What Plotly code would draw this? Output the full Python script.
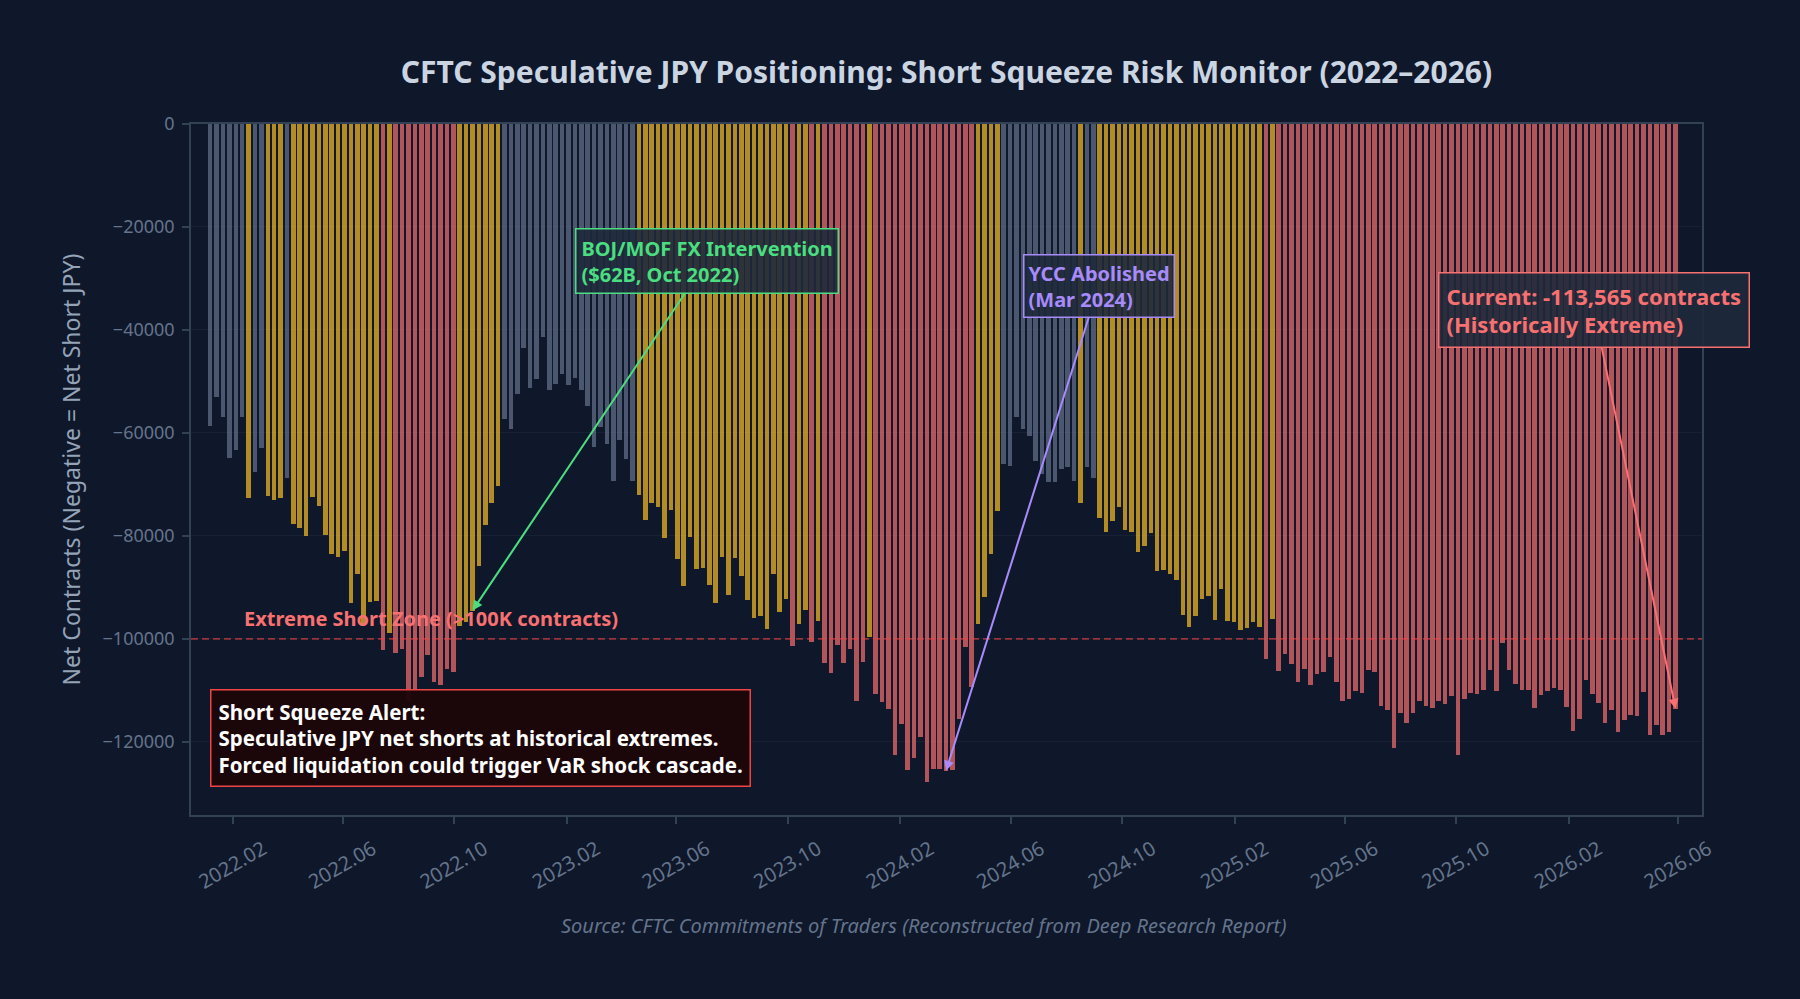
import pandas as pd
import plotly.graph_objects as go

# ---------------- data ----------------
start_date = "2022-01-07"   # first weekly CFTC report shown
n_weeks = 230
net_contracts = [
    -58600, -53000, -57000, -64800, -63300, -57000, -72700, -67500, -63000, -72200,
    -73100, -72600, -68700, -77600, -78500, -80000, -72500, -74100, -79900, -83500,
    -84000, -83000, -93100, -87300, -97300, -92800, -92700, -102200, -98800, -102800,
    -102000, -112000, -109900, -107400, -103100, -108300, -109000, -105800, -106500, -97500,
    -96700, -94500, -85800, -77800, -73600, -70300, -57300, -59300, -52500, -43500,
    -51200, -49500, -41300, -51700, -50400, -48500, -50600, -49300, -51600, -54700,
    -62800, -58900, -62100, -69400, -61400, -65100, -69400, -72000, -76900, -73600,
    -74300, -80400, -75000, -84500, -89800, -80200, -86400, -86200, -89600, -93100,
    -84000, -91500, -84200, -87800, -92400, -96000, -95500, -98100, -87300, -94800,
    -92300, -101400, -97200, -94400, -100600, -96500, -104700, -106600, -101200, -104700,
    -102000, -112000, -104500, -99600, -110700, -112300, -113600, -122500, -116600, -125500,
    -123200, -119100, -127800, -125200, -125200, -125600, -125400, -115600, -101600, -109400,
    -97200, -91900, -83500, -75200, -66100, -66500, -57000, -59300, -60600, -65400,
    -67900, -69500, -69500, -67000, -66700, -69400, -73600, -66700, -68800, -76600,
    -79300, -77100, -74400, -78900, -79300, -83200, -82000, -79500, -86800, -86600,
    -87400, -88600, -95400, -97600, -95500, -92300, -91700, -96400, -90400, -96500,
    -96700, -98300, -97900, -96700, -97700, -103900, -96200, -106200, -102900, -104900,
    -108400, -105900, -109000, -106900, -106400, -103600, -108400, -112000, -111700, -110200,
    -110500, -106100, -106400, -113000, -113800, -121200, -114400, -116300, -114400, -112000,
    -113000, -113500, -112000, -112600, -111100, -122500, -111700, -110500, -110700, -110000,
    -106100, -110200, -100700, -106100, -108700, -110000, -110000, -113500, -110900, -110200,
    -109500, -109900, -113200, -117800, -115600, -108000, -110700, -112500, -116300, -113800,
    -118100, -115800, -114700, -115000, -110300, -118600, -116700, -118600, -118100, -113565,
]
extreme_threshold = -100000
elevated_threshold = -70000
boj_week_index = 41      # Oct 2022 intervention week
ycc_week_index = 115     # Mar 2024 YCC abolished

dates = pd.date_range(start_date, periods=n_weeks, freq="7D")

RED = "rgba(248,113,113,0.7)"
GOLD = "rgba(251,191,36,0.7)"
GRAY = "rgba(100,116,139,0.7)"
colors = [RED if v <= extreme_threshold else (GOLD if v <= elevated_threshold else GRAY)
          for v in net_contracts]

BG = "#0f172a"
FONT = "Noto Sans"

fig = go.Figure()
fig.add_trace(go.Bar(
    x=dates, y=net_contracts, marker=dict(color=colors, line=dict(width=0)),
    width=5 * 86400000, showlegend=False, hoverinfo="x+y",
))

fig.add_hline(y=extreme_threshold,
              line=dict(color="rgba(239,68,68,0.6)", width=1.6, dash="7px,4px"))

annotations = []
annotations.append(dict(
    x=0.034, xref="paper", y=extreme_threshold, yref="y", xanchor="left", yanchor="bottom",
    yshift=5, showarrow=False,
    text="<b>Extreme Short Zone (>100K contracts)</b>",
    font=dict(family=FONT, size=20, color="#f87171"),
))
annotations.append(dict(
    x=dates[boj_week_index], y=net_contracts[boj_week_index], xref="x", yref="y",
    ax="2023-07-04", ay=-26600, axref="x", ayref="y",
    text="<b>BOJ/MOF FX Intervention<br>($62B, Oct 2022)</b>", align="left",
    font=dict(family=FONT, size=20, color="#4ade80"),
    bgcolor="rgba(30,41,59,0.9)", bordercolor="#4ade80", borderwidth=1.5, borderpad=5,
    showarrow=True, arrowhead=2, arrowsize=1, arrowwidth=2, arrowcolor="#4ade80",
))
annotations.append(dict(
    x=dates[ycc_week_index], y=net_contracts[ycc_week_index], xref="x", yref="y",
    ax="2024-09-05", ay=-31400, axref="x", ayref="y",
    text="<b>YCC Abolished<br>(Mar 2024)</b>", align="left",
    font=dict(family=FONT, size=20, color="#a78bfa"),
    bgcolor="rgba(30,41,59,0.9)", bordercolor="#a78bfa", borderwidth=1.5, borderpad=4,
    showarrow=True, arrowhead=2, arrowsize=1, arrowwidth=2, arrowcolor="#a78bfa",
))
annotations.append(dict(
    x=dates[-1], y=net_contracts[-1], xref="x", yref="y",
    ax="2026-03-01", ay=-36200, axref="x", ayref="y",
    text=f"<b>Current: {net_contracts[-1]:,} contracts<br>(Historically Extreme)</b>", align="left",
    font=dict(family=FONT, size=22, color="#f87171"),
    bgcolor="rgba(30,41,59,0.9)", bordercolor="#f87171", borderwidth=1.5, borderpad=7,
    showarrow=True, arrowhead=2, arrowsize=1, arrowwidth=2, arrowcolor="#f87171",
))
annotations.append(dict(
    x=0.0128, xref="paper", y=0.041, yref="paper", xanchor="left", yanchor="bottom",
    showarrow=False, align="left",
    text=("<b>Short Squeeze Alert:<br>Speculative JPY net shorts at historical extremes.<br>"
          "Forced liquidation could trigger VaR shock cascade.</b>"),
    font=dict(family=FONT, size=20.5, color="#ffffff"),
    bgcolor="rgba(28,5,8,0.95)", bordercolor="#ef4444", borderwidth=1.5, borderpad=7,
))
annotations.append(dict(
    x=0.4846, xref="paper", y=-0.1606, yref="paper", xanchor="center", yanchor="middle",
    showarrow=False,
    text="<i>Source: CFTC Commitments of Traders (Reconstructed from Deep Research Report)</i>",
    font=dict(family=FONT, size=20, color="#64748b"),
))

fig.update_layout(
    width=1800, height=999,
    paper_bgcolor=BG, plot_bgcolor=BG,
    margin=dict(l=191, r=98, t=124, b=184),
    title=dict(
        text="<b>CFTC Speculative JPY Positioning: Short Squeeze Risk Monitor (2022\u20132026)</b>",
        x=0.5, xref="paper", xanchor="center", y=1 - 72 / 999, yref="container", yanchor="middle",
        font=dict(family=FONT, size=30, color="#cbd5e1"),
    ),
    font=dict(family=FONT),
    annotations=annotations,
    bargap=0,
    showlegend=False,
)
fig.update_xaxes(
    type="date", range=["2021-12-17", "2026-06-27"],
    tickformat="%Y.%m", dtick="M4", tick0="2022-02-01", tickangle=-30,
    ticks="outside", ticklen=7, tickcolor="#334155", tickwidth=1.5,
    tickfont=dict(family=FONT, size=20, color="#64748b"),
    ticklabelshift=30, ticklabelstandoff=6,
    showline=True, linecolor="#334155", linewidth=1.5, mirror=True,
    showgrid=False, zeroline=False,
)
fig.update_yaxes(
    range=[-134200, 0], dtick=20000, tick0=0, tickformat="d",
    ticks="outside", ticklen=7, tickcolor="#334155", tickwidth=1.5,
    tickfont=dict(family=FONT, size=18, color="#64748b"),
    ticklabelstandoff=4,
    showline=True, linecolor="#334155", linewidth=1.5, mirror=True,
    showgrid=True, gridcolor="rgba(51,65,85,0.25)", gridwidth=1, zeroline=False,
    title=dict(text="Net Contracts (Negative = Net Short JPY)", standoff=16,
               font=dict(family=FONT, size=23, color="#94a3b8")),
)

fig.write_html("out.html")
